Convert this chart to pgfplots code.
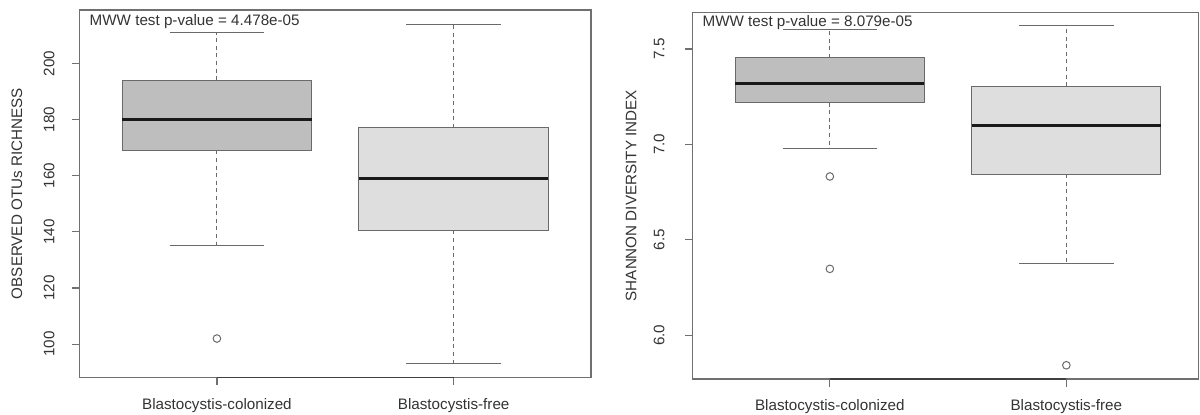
\documentclass[border=0pt]{standalone}
\usepackage{pgfplots}
\pgfplotsset{compat=1.18}
\usepgfplotslibrary{statistics}
\usepackage{fontspec}
\setmainfont{Liberation Sans}
\definecolor{boxA}{HTML}{BEBEBE}
\definecolor{boxB}{HTML}{DEDEDE}
\definecolor{frame}{HTML}{707070}
\definecolor{txt}{HTML}{333333}
\definecolor{edge}{HTML}{6A6A6A}

\pgfplotsset{
  rbox/.style={
    scale only axis,
    clip=false,
    axis line style={frame, line width=0.6pt},
    xmin=0.42,
    xtick={1,2},
    xticklabels={Blastocystis-colonized, Blastocystis-free},
    xtick pos=lower, ytick pos=left,
    tick align=outside,
    major tick length=3.75pt,
    minor tick num=0,
    tick style={frame, line width=0.6pt},
    every tick label/.append style={font=\fontsize{7.6}{9}\selectfont, text=txt},
    /pgf/number format/assume math mode=true,
    xticklabel style={anchor=north, inner sep=0pt},
    xticklabel shift=6.5pt,
    yticklabel style={rotate=90, anchor=south, inner sep=0pt},
    every axis y label/.style={rotate=90, anchor=center, font=\fontsize{7.6}{9}\selectfont, text=txt},
    boxplot/draw direction=y,
    boxplot/box extend=0.8,
    boxplot/whisker extend=0.4,
    boxplot/every box/.style={draw=edge, line width=0.5pt},
    boxplot/every median/.style={draw=black!90, line width=1.5pt},
    boxplot/every whisker/.style={draw=edge, line width=0.5pt},
    boxplot/draw/lower whisker/.code={%
      \draw[/pgfplots/boxplot/every whisker/.try, dash pattern=on 2pt off 1.8pt]
        (boxplot cs:\pgfplotsboxplotvalue{lower quartile}) -- (boxplot cs:\pgfplotsboxplotvalue{lower whisker});
      \draw[/pgfplots/boxplot/every whisker/.try]
        (boxplot whisker cs:\pgfplotsboxplotvalue{lower whisker},0) -- (boxplot whisker cs:\pgfplotsboxplotvalue{lower whisker},1);
    },
    boxplot/draw/upper whisker/.code={%
      \draw[/pgfplots/boxplot/every whisker/.try, dash pattern=on 2pt off 1.8pt]
        (boxplot cs:\pgfplotsboxplotvalue{upper quartile}) -- (boxplot cs:\pgfplotsboxplotvalue{upper whisker});
      \draw[/pgfplots/boxplot/every whisker/.try]
        (boxplot whisker cs:\pgfplotsboxplotvalue{upper whisker},0) -- (boxplot whisker cs:\pgfplotsboxplotvalue{upper whisker},1);
    },
  },
  outl/.style={mark=o, mark size=1.9pt, mark options={draw=edge, line width=0.5pt, solid}},
}

\begin{document}
\begin{tikzpicture}[font=\fontsize{7.6}{9}\selectfont]
\path[use as bounding box] (0,0) rectangle (600pt,207pt);

% Left panel: observed OTUs richness
\begin{axis}[rbox,
  at={(39.8pt,18.35pt)}, anchor=south west,
  width=255.7pt, height=183.65pt,
  xmax=2.58, ymin=88.2, ymax=219.0,
  ytick={100,120,140,160,180,200},
  yticklabel shift=8.6pt,
  ylabel={OBSERVED OTUs RICHNESS},
  ylabel style={at={(axis description cs:-0.1224,0.5)}},
]
\addplot[forget plot, draw=black!75, line width=0.8pt] coordinates {(1,88.2) (2,88.2)};
\addplot[boxplot prepared={draw position=1, lower whisker=135, lower quartile=169,
  median=180, upper quartile=194, upper whisker=211.1},
  fill=boxA, draw=edge, outl] coordinates {(0,102)};
\addplot[boxplot prepared={draw position=2, lower whisker=93.1, lower quartile=140.5,
  median=159, upper quartile=177, upper whisker=214},
  fill=boxB, draw=edge, outl] coordinates {};
\node[anchor=base west, inner sep=0pt, text=txt] at (rel axis cs:0.019,0.959) {MWW test p-value = 4.478e-05};
\end{axis}

% Right panel: Shannon diversity index
\begin{axis}[rbox,
  at={(346.35pt,17.5pt)}, anchor=south west,
  width=253.0pt, height=183.35pt,
  xmax=2.5597, ymin=5.771, ymax=7.692,
  ytick={6.0,6.5,7.0,7.5},
  yticklabel style={/pgf/number format/fixed, /pgf/number format/fixed zerofill, /pgf/number format/precision=1},
  yticklabel shift=10.2pt,
  ylabel={SHANNON DIVERSITY INDEX},
  ylabel style={at={(axis description cs:-0.1217,0.5)}},
]
\addplot[forget plot, draw=black!75, line width=0.8pt] coordinates {(1,5.771) (2,5.771)};
\addplot[boxplot prepared={draw position=1, lower whisker=6.977, lower quartile=7.219,
  median=7.318, upper quartile=7.453, upper whisker=7.603},
  fill=boxA, draw=edge, outl] coordinates {(0,6.832) (0,6.348)};
\addplot[boxplot prepared={draw position=2, lower whisker=6.374, lower quartile=6.844,
  median=7.100, upper quartile=7.305, upper whisker=7.622},
  fill=boxB, draw=edge, outl] coordinates {(0,5.843)};
\node[anchor=base west, inner sep=0pt, text=txt] at (rel axis cs:0.0189,0.9607) {MWW test p-value = 8.079e-05};
\end{axis}
\end{tikzpicture}
\end{document}
